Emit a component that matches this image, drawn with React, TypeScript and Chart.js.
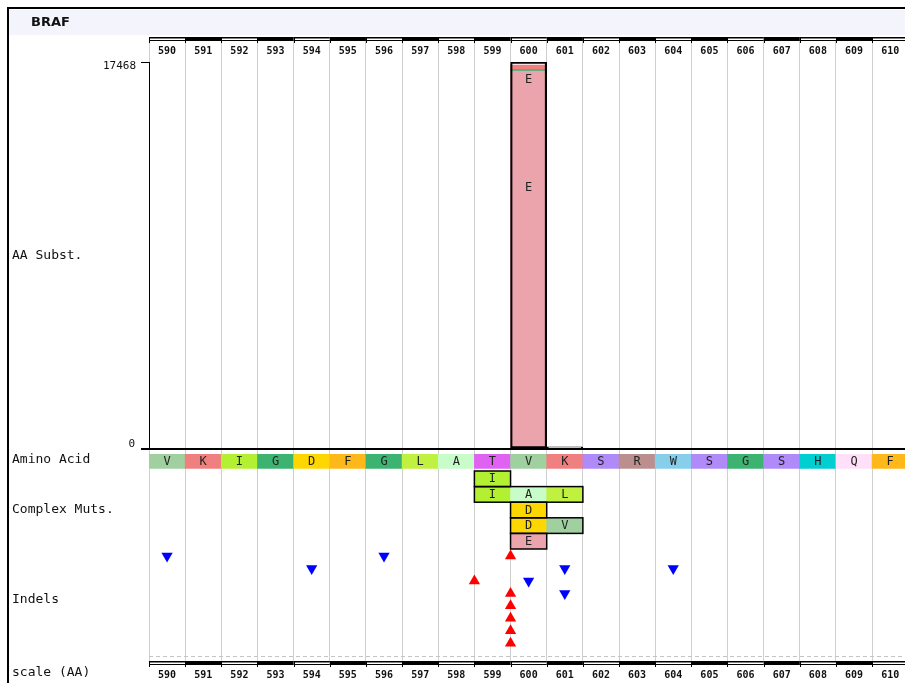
import React, { useEffect, useRef } from 'react';
import { Chart, registerables } from 'chart.js';

Chart.register(...registerables);

const GENE = 'BRAF';

// Residue window shown in the browser
const positions = [590, 591, 592, 593, 594, 595, 596, 597, 598, 599, 600, 601, 602, 603, 604, 605, 606, 607, 608, 609, 610];
const residues = ['V', 'K', 'I', 'G', 'D', 'F', 'G', 'L', 'A', 'T', 'V', 'K', 'S', 'R', 'W', 'S', 'G', 'S', 'H', 'Q', 'F'];
const windowStart = 589.5;
const windowEnd = 610.41;

const aaColors: Record<string, string> = {
  A: '#c8fcc8', D: '#ffd700', E: '#eca4ac', F: '#ffb81a', G: '#3cb371', H: '#00ced1',
  I: '#b4f032', K: '#f08080', L: '#c0f040', Q: '#ffe0f8', R: '#bc8f8f', S: '#b08af8',
  T: '#e062f2', V: '#a0d0a0', W: '#87ceeb',
};

// Point substitutions (sample counts), stacked by resulting residue
const substPositions = [600, 601];
const substE = [17062, 0];
const substG = [60, 0];
const substK = [205, 0];
const substOther = [141, 95];
const substTotal = [17468, 95];
const substAxisMax = 17468;

// Complex mutations, one row per event
const complexRows = [0, 1, 2, 3, 4];
const complexStart = [599, 599, 600, 600, 600];
const complexResidues = ['I', 'IAL', 'D', 'DV', 'E'];

// Indels: deletions sit on residues, insertions between residues
const delPositions = [590, 594, 596, 600, 601, 601, 604];
const delRows = [0, 1, 0, 2, 1, 3, 1];
const insPositions = [598.5, 599.5, 599.5, 599.5, 599.5, 599.5, 599.5];
const insRows = [2, 0, 3, 4, 5, 6, 7];

const trackLabels = ['AA Subst.', 'Amino Acid', 'Complex Muts.', 'Indels'];
const trackScaleIds = ['ySubst', 'yAA', 'yComplex', 'yIndel'];
const rulerLabel = 'scale (AA)';

const MONO = '"DejaVu Sans Mono", monospace';

const substSegments = [
  { residue: 'E', values: substE },
  { residue: 'G', values: substG },
  { residue: 'K', values: substK },
  { residue: '', values: substOther },
];

const complexCells: { x: number; row: number; aa: string }[] = [];
complexRows.forEach((row, i) => {
  complexResidues[i].split('').forEach((aa, k) => {
    complexCells.push({ x: complexStart[i] + k, row, aa });
  });
});

function drawRuler(ctx: CanvasRenderingContext2D, x: any, top: number, right: number) {
  ctx.fillStyle = '#000';
  positions.forEach((p, i) => {
    const x0 = x.getPixelForValue(p - 0.5);
    const x1 = Math.min(x.getPixelForValue(p + 0.5), right);
    if (i % 2 === 1) {
      ctx.fillRect(x0, top, x1 - x0, 4);
    } else {
      ctx.fillRect(x0, top, x1 - x0, 1.5);
      ctx.fillRect(x0, top + 3, x1 - x0, 1);
    }
  });
  positions.forEach((p) => {
    const xb = Math.round(x.getPixelForValue(p - 0.5));
    ctx.fillRect(xb, top, 1, 6);
  });
}

const trackPlugin = {
  id: 'trackDecor',
  beforeDraw(chart: any) {
    const { ctx, width, height } = chart;
    ctx.save();
    ctx.fillStyle = '#ffffff';
    ctx.fillRect(0, 0, width, height);
    ctx.fillStyle = '#f4f4fd';
    ctx.fillRect(9, 10, width - 9, 25);
    ctx.fillStyle = '#000';
    ctx.fillRect(7, 7, width - 7, 2);
    ctx.fillRect(7, 7, 2, height - 7);
    ctx.restore();
  },
  afterDatasetsDraw(chart: any) {
    const { ctx } = chart;
    const x = chart.scales.x;
    const yC = chart.scales.yComplex;
    ctx.save();
    // outline around each complex event
    ctx.strokeStyle = '#000';
    ctx.lineWidth = 1.5;
    complexRows.forEach((row, i) => {
      const x0 = x.getPixelForValue(complexStart[i] - 0.5);
      const x1 = x.getPixelForValue(complexStart[i] + complexResidues[i].length - 0.5);
      const y0 = yC.getPixelForValue(row);
      const y1 = yC.getPixelForValue(row + 1);
      ctx.strokeRect(x0, y0, x1 - x0, y1 - y0);
    });

    ctx.font = `12px ${MONO}`;
    ctx.fillStyle = '#222';
    ctx.textAlign = 'center';
    ctx.textBaseline = 'middle';
    // residue letters in the amino-acid track
    chart.getDatasetMeta(5).data.forEach((el: any, i: number) => {
      ctx.fillText(residues[i], el.x, (el.y + el.base) / 2 + 0.5);
    });
    // residue letters in complex mutation cells
    chart.getDatasetMeta(6).data.forEach((el: any, i: number) => {
      ctx.fillText(complexCells[i].aa, el.x, (el.y + el.base) / 2 + 0.5);
    });
    // labels on the dominant substitution
    const eBar = chart.getDatasetMeta(1).data[0];
    if (eBar) {
      ctx.fillText('E', eBar.x, eBar.y + 9);
      ctx.fillText('E', eBar.x, eBar.y + (eBar.base - eBar.y) * 0.31);
    }
    ctx.restore();
  },
  afterDraw(chart: any) {
    const { ctx, chartArea, height } = chart;
    const x = chart.scales.x;
    ctx.save();

    ctx.fillStyle = '#111';
    ctx.textBaseline = 'middle';
    ctx.textAlign = 'left';
    ctx.font = 'bold 13px "DejaVu Sans", sans-serif';
    ctx.fillText(GENE, 31, 22.5);

    // rulers above and below the tracks
    drawRuler(ctx, x, chartArea.top - 4, chartArea.right);
    drawRuler(ctx, x, chartArea.bottom, chartArea.right);

    // dashed separator above the lower ruler
    const yGap = chart.scales.yGap;
    const yDash = Math.round((yGap.top + yGap.bottom) / 2) + 0.5;
    ctx.strokeStyle = '#c4c4c4';
    ctx.lineWidth = 1;
    ctx.setLineDash([4, 3]);
    ctx.beginPath();
    ctx.moveTo(chartArea.left, yDash);
    ctx.lineTo(chartArea.right, yDash);
    ctx.stroke();
    ctx.setLineDash([]);

    // residue numbers
    ctx.fillStyle = '#111';
    ctx.textAlign = 'center';
    ctx.font = `bold 10px ${MONO}`;
    const yHead = chart.scales.yHead;
    const topLabelY = (yHead.top + yHead.bottom) / 2;
    const bottomLabelY = chartArea.bottom + 14;
    positions.forEach((p) => {
      const px = x.getPixelForValue(p);
      ctx.fillText(String(p), px, topLabelY);
      ctx.fillText(String(p), px, bottomLabelY);
    });

    // count axis labels
    const yS = chart.scales.ySubst;
    ctx.textAlign = 'right';
    ctx.font = `11px ${MONO}`;
    ctx.fillText(String(substAxisMax), 136, yS.getPixelForValue(substAxisMax) + 4.5);
    ctx.fillText('0', 135, yS.getPixelForValue(0) - 5);

    // track names
    ctx.textAlign = 'left';
    ctx.font = `13px ${MONO}`;
    trackLabels.forEach((label, i) => {
      const s = chart.scales[trackScaleIds[i]];
      ctx.fillText(label, 12, (s.top + s.bottom) / 2);
    });
    ctx.fillText(rulerLabel, 12, (chartArea.bottom + height) / 2 + 1);
    ctx.restore();
  },
};

function hiddenTrack(weight: number, stackWeight: number, min: number, max: number, reverse = true) {
  return {
    type: 'linear',
    position: 'left',
    stack: 'tracks',
    weight,
    stackWeight,
    min,
    max,
    reverse,
    display: false,
  };
}

export default function App() {
  const canvasRef = useRef<HTMLCanvasElement>(null);

  useEffect(() => {
    const canvas = canvasRef.current;
    if (!canvas) return;

    const datasets: any[] = [
      {
        label: 'total',
        yAxisID: 'ySubst',
        stack: 'total',
        data: substPositions.map((p, i) => ({ x: p, y: substTotal[i] })),
        backgroundColor: 'rgba(0,0,0,0)',
        borderColor: '#000',
        borderWidth: 1.5,
        borderSkipped: false,
      },
      ...substSegments.map((seg) => ({
        label: seg.residue || 'other',
        yAxisID: 'ySubst',
        stack: 'subst',
        data: substPositions.map((p, i) => ({ x: p, y: seg.values[i] })),
        backgroundColor: seg.residue ? aaColors[seg.residue] : '#ffffff',
        borderWidth: 0,
      })),
      {
        label: 'Amino Acid',
        yAxisID: 'yAA',
        data: positions.map((p) => ({ x: p, y: [0, 1] })),
        backgroundColor: residues.map((r) => aaColors[r]),
        borderWidth: 0,
      },
      {
        label: 'Complex Muts.',
        yAxisID: 'yComplex',
        data: complexCells.map((c) => ({ x: c.x, y: [c.row, c.row + 1] })),
        backgroundColor: complexCells.map((c) => aaColors[c.aa]),
        borderWidth: 0,
      },
      {
        type: 'scatter',
        label: 'Deletions',
        yAxisID: 'yIndel',
        data: delPositions.map((p, i) => ({ x: p, y: delRows[i] })),
        pointStyle: 'triangle',
        pointRotation: 180,
        pointRadius: 6.5,
        pointBackgroundColor: '#0000ff',
        pointBorderWidth: 0,
        showLine: false,
      },
      {
        type: 'scatter',
        label: 'Insertions',
        yAxisID: 'yIndel',
        data: insPositions.map((p, i) => ({ x: p, y: insRows[i] })),
        pointStyle: 'triangle',
        pointRotation: 0,
        pointRadius: 6.5,
        pointBackgroundColor: '#ff0000',
        pointBorderWidth: 0,
        showLine: false,
      },
    ];

    const chart = new Chart(canvas, {
      type: 'bar',
      data: { datasets },
      plugins: [trackPlugin],
      options: {
        animation: false,
        responsive: false,
        devicePixelRatio: 1,
        events: [],
        layout: { autoPadding: false, padding: { top: 41, left: 149, right: 0, bottom: 22 } },
        datasets: {
          bar: { grouped: false, barPercentage: 1, categoryPercentage: 1 },
        },
        plugins: { legend: { display: false }, tooltip: { enabled: false } },
        scales: {
          x: {
            type: 'linear',
            position: 'bottom',
            min: windowStart,
            max: windowEnd,
            offset: false,
            afterBuildTicks: (s: any) => {
              s.ticks = positions.map((v) => ({ value: v }));
            },
            afterFit: (s: any) => {
              s.height = 0;
            },
            ticks: { display: false },
            grid: { offset: true, drawTicks: false, color: '#d0d0d0', lineWidth: 1 },
            border: { display: false },
          },
          yHead: hiddenTrack(60, 21, 0, 1),
          ySubst: {
            type: 'linear',
            position: 'left',
            stack: 'tracks',
            weight: 50,
            stackWeight: 387,
            min: 0,
            max: substAxisMax,
            stacked: true,
            afterBuildTicks: (s: any) => {
              s.ticks = [{ value: 0 }, { value: substAxisMax }];
            },
            afterFit: (s: any) => {
              s.width = 0;
            },
            ticks: { display: false },
            grid: {
              z: 1,
              drawTicks: true,
              tickLength: 8,
              tickColor: '#000',
              color: (c: any) => (c.tick && c.tick.value === 0 ? '#000' : 'rgba(0,0,0,0)'),
              lineWidth: (c: any) => (c.tick && c.tick.value === 0 ? 2 : 1),
            },
            border: { display: true, color: '#000', width: 1, z: 1 },
          },
          yAA: hiddenTrack(40, 22, -0.38, 1.19),
          yComplex: hiddenTrack(30, 78, 0, 5),
          yIndel: hiddenTrack(20, 102, -0.56, 7.62),
          yGap: hiddenTrack(10, 10, 0, 1),
        },
      } as any,
    } as any);

    return () => chart.destroy();
  }, []);

  return (
    <div style={{ position: 'fixed', left: 0, top: 0, width: 905, height: 683, background: '#fff' }}>
      <canvas ref={canvasRef} width={905} height={683} style={{ display: 'block', width: 905, height: 683 }} />
    </div>
  );
}
